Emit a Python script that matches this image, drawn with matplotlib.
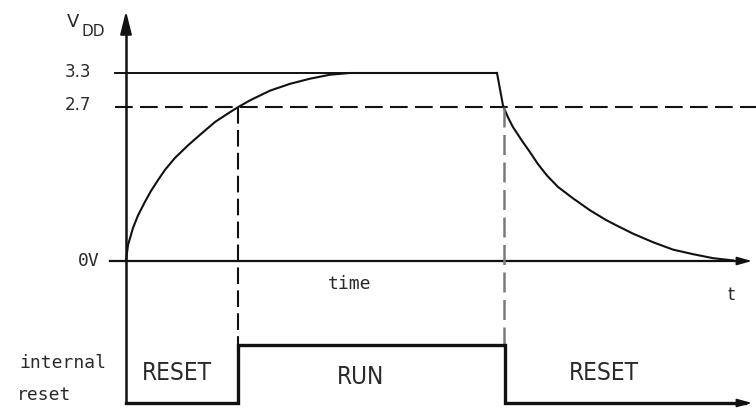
import matplotlib
matplotlib.use("Agg")
import matplotlib.pyplot as plt

# ---- data (time in arbitrary units, voltage in volts) ----
rise_t = [126, 128, 133, 138, 145, 151, 158, 165, 175, 188, 201, 215, 228, 238,
          250, 270, 290, 310, 330, 350, 497]
rise_v = [0.00, 0.28, 0.58, 0.80, 1.04, 1.23, 1.42, 1.60, 1.81, 2.03, 2.23, 2.44,
          2.59, 2.70, 2.82, 2.99, 3.11, 3.20, 3.27, 3.30, 3.30]
fall_t = [497, 503, 508, 513, 522, 530, 538, 547, 558, 573, 590, 606, 617, 633,
          653, 673, 693, 713, 733]
fall_v = [3.30, 2.73, 2.52, 2.35, 2.11, 1.91, 1.70, 1.50, 1.30, 1.10, 0.89, 0.72,
          0.62, 0.48, 0.33, 0.20, 0.12, 0.05, 0.01]
V_HIGH = 3.3
V_TH = 2.7
reset_edges = [126, 238, 505, 745]
reset_state = [0, 1, 0]          # 0 = RESET (low), 1 = RUN (high)
reset_labels = ["RESET", "RUN", "RESET"]

# ---- layout ----
PX_PER_V = 56.97
Y0 = 261.0
def v_of_px(py):
    return (Y0 - py) / PX_PER_V

LOW = v_of_px(403)
HIGH = v_of_px(345)
T0 = rise_t[0]
T_END = 756

fig = plt.figure(figsize=(7.56, 4.12), dpi=100)
ax = fig.add_axes([0, 0, 1, 1])
ax.set_xlim(0, 756)
ax.set_ylim(v_of_px(412), v_of_px(0))
ax.axis("off")

K = "#111111"
TXT = "#2a2a2a"

# vertical axis with arrow
ax.plot([T0, T0], [LOW, v_of_px(30)], color=K, lw=1.8, solid_capstyle="butt")
ax.annotate("", xy=(T0, v_of_px(11)), xytext=(T0, v_of_px(34)),
            arrowprops=dict(arrowstyle="-|>,head_length=1.4,head_width=0.35",
                            color=K, lw=1.5, shrinkA=0, shrinkB=0))

# 0V time axis with arrow
ax.plot([110, 740], [0, 0], color=K, lw=1.6)
ax.annotate("", xy=(752, 0), xytext=(735, 0),
            arrowprops=dict(arrowstyle="-|>,head_length=0.9,head_width=0.25",
                            color=K, lw=1.2, shrinkA=0, shrinkB=0))

# 3.3 level line
ax.plot([115, rise_t[-1]], [V_HIGH, V_HIGH], color=K, lw=1.4)
# 2.7 threshold dashed line
ax.plot([115, T_END], [V_TH, V_TH], color=K, lw=1.5, dashes=(8.5, 3.5))

# VDD curve
ax.plot(rise_t, rise_v, color=K, lw=1.5, solid_joinstyle="round")
ax.plot(fall_t, fall_v, color=K, lw=1.5, solid_joinstyle="round")

# vertical dashed markers
ax.plot([reset_edges[1]] * 2, [V_TH, HIGH], color=K, lw=1.5, dashes=(8, 3))
ax.plot([reset_edges[2] - 1] * 2, [V_TH, HIGH], color="#7a7a7a", lw=1.8, dashes=(8, 3))

# internal reset signal
xs, ys = [], []
for i, s in enumerate(reset_state):
    lvl = HIGH if s else LOW
    xs += [reset_edges[i], reset_edges[i + 1]]
    ys += [lvl, lvl]
ax.plot(xs, ys, color=K, lw=2.4, solid_joinstyle="miter")
ax.annotate("", xy=(752, LOW), xytext=(735, LOW),
            arrowprops=dict(arrowstyle="-|>,head_length=0.9,head_width=0.25",
                            color=K, lw=1.2, shrinkA=0, shrinkB=0))

# state labels
label_pos = [(177, v_of_px(373)), (361, v_of_px(377)), (604, v_of_px(373))]
for (lx, ly), lab in zip(label_pos, reset_labels):
    ax.text(lx, ly, lab, ha="center", va="center", fontsize=17.5,
            family="DejaVu Sans", fontstretch="condensed", color=TXT)

# axis texts
ax.text(78, v_of_px(72), "3.3", ha="center", va="center", fontsize=12, color=TXT)
ax.text(78, v_of_px(105), "2.7", ha="center", va="center", fontsize=12, color=TXT)
ax.text(89, v_of_px(261), "0V", ha="center", va="center", fontsize=13,
        family="DejaVu Sans Mono", color=TXT)
ax.text(73, v_of_px(22), "V", ha="center", va="center", fontsize=13, color=TXT)
ax.text(93, v_of_px(31), "DD", ha="center", va="center", fontsize=11, color=TXT)
ax.text(350, v_of_px(284), "time", ha="center", va="center", fontsize=13,
        family="DejaVu Sans Mono", color=TXT)
ax.text(731, v_of_px(295), "t", ha="center", va="center", fontsize=13, color=TXT)
ax.text(63, v_of_px(363), "internal", ha="center", va="center", fontsize=13,
        family="DejaVu Sans Mono", color=TXT)
ax.text(44, v_of_px(395), "reset", ha="center", va="center", fontsize=13,
        family="DejaVu Sans Mono", color=TXT)

fig.savefig("out.png", dpi=100)
